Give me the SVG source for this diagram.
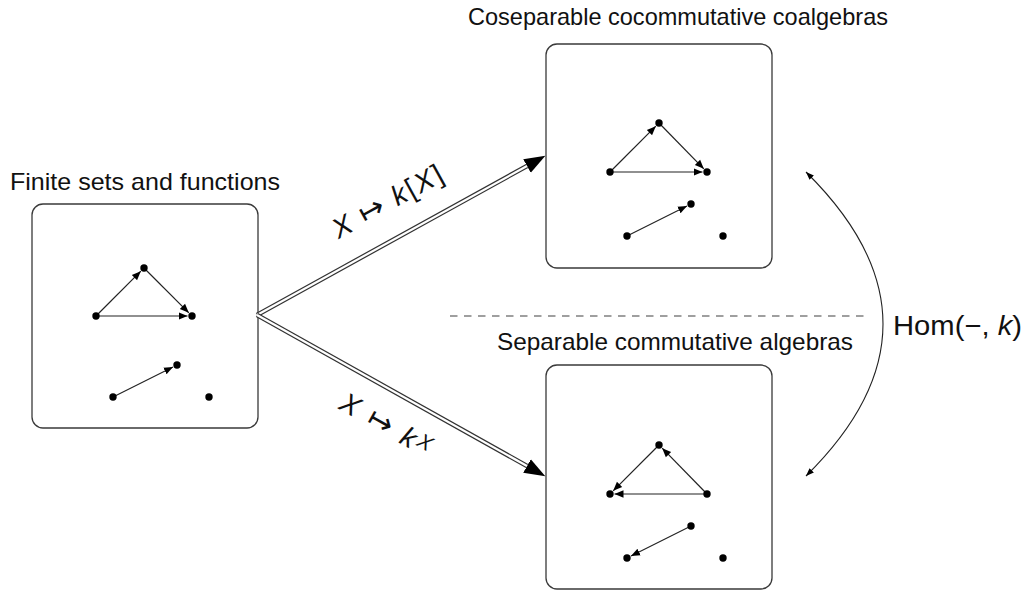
<svg xmlns="http://www.w3.org/2000/svg" width="1025" height="590" viewBox="0 0 1025 590">
  <style>
    .box { fill: #ffffff; stroke: #3a3a3a; stroke-width: 1.3; }
    .title { font-family: "Liberation Sans", Arial, sans-serif; font-size: 24px; fill: #111; }
    .math { font-family: "Liberation Sans", "DejaVu Sans", sans-serif; font-size: 28px; fill: #111; }
    .arrowsym { font-family: "DejaVu Sans", sans-serif; font-size: 30px; }
    .dot { fill: #000; }
    .edge { fill: none; stroke: #222; stroke-width: 1.2; marker-end: url(#tip); }
    .dbl-out { fill: none; stroke: #333; stroke-width: 4.6; }
    .dbl-in { fill: none; stroke: #fff; stroke-width: 2.2; }
    .sep { stroke: #808080; stroke-width: 1.3; stroke-dasharray: 7.5 6.5; }
    .duality { fill: none; stroke: #222; stroke-width: 1.1; marker-start: url(#tipSmall); marker-end: url(#tipSmall); }
  </style>
  <defs>
    <marker id="tip" markerUnits="userSpaceOnUse" markerWidth="11" markerHeight="9" refX="9" refY="4.5" orient="auto">
      <path d="M0,0.8 L9,4.5 L0,8.2 z" fill="#000"/>
    </marker>
    <marker id="tipSmall" markerUnits="userSpaceOnUse" markerWidth="10" markerHeight="8" refX="8" refY="4" orient="auto-start-reverse">
      <path d="M0,0.9 L8,4 L0,7.1 z" fill="#000"/>
    </marker>
    <marker id="bigHead" markerUnits="userSpaceOnUse" markerWidth="23" markerHeight="18" refX="0" refY="9" orient="auto">
      <path d="M0,1.2 L21,9 L0,16.8 z" fill="#000"/>
    </marker>
  </defs>

  <rect width="1025" height="590" fill="#ffffff"/>

  <!-- separator between the two categories on the right -->
  <line class="sep" x1="450" y1="316" x2="870" y2="316"/>

  <!-- Finite sets -->
  <g id="finite-sets">
    <text class="title" x="10" y="190" textLength="270" lengthAdjust="spacingAndGlyphs">Finite sets and functions</text>
    <rect class="box" x="32" y="204" width="226" height="224" rx="11"/>
    <line class="edge" x1="96" y1="316" x2="140.8" y2="271.2"/>
    <line class="edge" x1="144" y1="268" x2="188.8" y2="312.8"/>
    <line class="edge" x1="96" y1="316" x2="187.5" y2="316"/>
    <line class="edge" x1="113" y1="397" x2="173" y2="367"/>
    <circle class="dot" cx="96" cy="316" r="3.7"/>
    <circle class="dot" cx="144" cy="268" r="3.7"/>
    <circle class="dot" cx="192" cy="316" r="3.7"/>
    <circle class="dot" cx="113" cy="397" r="3.7"/>
    <circle class="dot" cx="177" cy="365" r="3.7"/>
    <circle class="dot" cx="209" cy="397" r="3.7"/>
  </g>

  <!-- Coalgebras -->
  <g id="coalgebras">
    <text class="title" x="468" y="25" textLength="420" lengthAdjust="spacingAndGlyphs">Coseparable cocommutative coalgebras</text>
    <rect class="box" x="546" y="44" width="226" height="224" rx="11"/>
    <line class="edge" x1="610" y1="172" x2="655.8" y2="126.2"/>
    <line class="edge" x1="659" y1="123" x2="703.8" y2="168.8"/>
    <line class="edge" x1="610" y1="172" x2="702.5" y2="172"/>
    <line class="edge" x1="627" y1="236" x2="687" y2="206"/>
    <circle class="dot" cx="610" cy="172" r="3.7"/>
    <circle class="dot" cx="659" cy="123" r="3.7"/>
    <circle class="dot" cx="707" cy="172" r="3.7"/>
    <circle class="dot" cx="627" cy="236" r="3.7"/>
    <circle class="dot" cx="691" cy="204" r="3.7"/>
    <circle class="dot" cx="723" cy="236" r="3.7"/>
  </g>

  <!-- Algebras -->
  <g id="algebras">
    <text class="title" x="497" y="350" textLength="356" lengthAdjust="spacingAndGlyphs">Separable commutative algebras</text>
    <rect class="box" x="546" y="365" width="226" height="224" rx="11"/>
    <line class="edge" x1="659" y1="445" x2="613.2" y2="490.8"/>
    <line class="edge" x1="707" y1="494" x2="662.2" y2="448.2"/>
    <line class="edge" x1="707" y1="494" x2="614.5" y2="494"/>
    <line class="edge" x1="691" y1="526" x2="631" y2="556"/>
    <circle class="dot" cx="610" cy="494" r="3.7"/>
    <circle class="dot" cx="659" cy="445" r="3.7"/>
    <circle class="dot" cx="707" cy="494" r="3.7"/>
    <circle class="dot" cx="627" cy="558" r="3.7"/>
    <circle class="dot" cx="691" cy="526" r="3.7"/>
    <circle class="dot" cx="723" cy="558" r="3.7"/>
  </g>

  <!-- functors between the categories -->
  <g id="connectors">
    <path class="dbl-out" d="M257,315 L527,166" marker-end="url(#bigHead)"/>
    <path class="dbl-in" d="M257,315 L527,166"/>
    <path class="dbl-out" d="M257,315 L527,466" marker-end="url(#bigHead)"/>
    <path class="dbl-in" d="M257,315 L527,466"/>
    <path class="duality" d="M806,172 Q960,324 806,476"/>

    <text class="math" transform="translate(387,201) rotate(-28.9)" text-anchor="middle" y="10" textLength="122" lengthAdjust="spacing"><tspan font-style="italic">X</tspan> <tspan class="arrowsym">↦</tspan> <tspan font-style="italic">k</tspan>[<tspan font-style="italic">X</tspan>]</text>
    <text class="math" transform="translate(386,424) rotate(29.2)" text-anchor="middle" y="10" textLength="100" lengthAdjust="spacing"><tspan font-style="italic">X</tspan> <tspan class="arrowsym">↦</tspan> <tspan font-style="italic">k</tspan><tspan font-style="italic" font-size="21" dy="-6">X</tspan></text>
    <text class="math" x="893" y="335" font-size="27" textLength="129" lengthAdjust="spacingAndGlyphs">Hom(−, <tspan font-style="italic">k</tspan>)</text>
  </g>
</svg>
